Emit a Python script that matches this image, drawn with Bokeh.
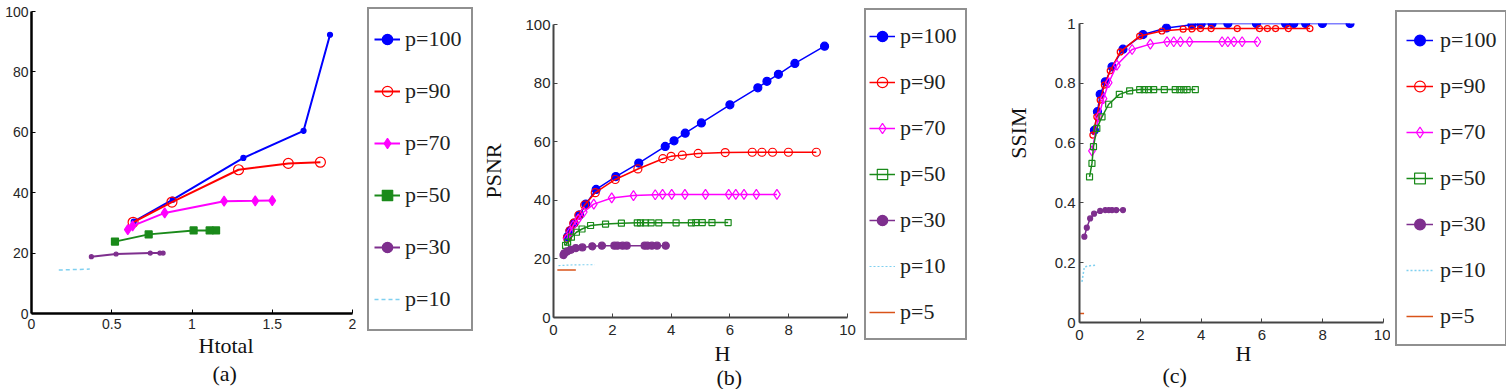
from bokeh.plotting import figure
from bokeh.layouts import row, column
from bokeh.models import Range1d, FixedTicker, Legend, LegendItem, Title
from bokeh.embed import file_html
from bokeh.resources import INLINE

# ---------------- data: panel (a) PSNR vs Htotal ----------------
a_x_ticks = [0, 0.5, 1, 1.5, 2]
a_x_labels = ["0", "0.5", "1", "1.5", "2"]
a_y_ticks = [0, 20, 40, 60, 80, 100]
a_y_labels = ["0", "20", "40", "60", "80", "100"]

a_p100_x = [0.637, 0.88, 1.32, 1.695, 1.86]
a_p100_y = [30.4, 37.7, 51.5, 60.5, 92.3]
a_p90_x = [0.633, 0.875, 1.29, 1.60, 1.80]
a_p90_y = [30.2, 36.9, 47.6, 49.7, 50.1]
a_p70_x = [0.60, 0.63, 0.83, 1.20, 1.394, 1.50]
a_p70_y = [27.8, 29.0, 33.3, 37.2, 37.3, 37.4]
a_p50_x = [0.52, 0.73, 1.01, 1.11, 1.15]
a_p50_y = [23.8, 26.2, 27.5, 27.5, 27.5]
a_p30_x = [0.373, 0.527, 0.74, 0.80, 0.82]
a_p30_y = [18.8, 19.7, 20.0, 20.0, 20.0]
a_p10_x = [0.17, 0.363]
a_p10_y = [14.4, 14.7]

# ---------------- data: panel (b) PSNR vs H ----------------
b_x_ticks = [0, 2, 4, 6, 8, 10]
b_x_labels = ["0", "2", "4", "6", "8", "10"]
b_y_ticks = [0, 20, 40, 60, 80, 100]
b_y_labels = ["0", "20", "40", "60", "80", "100"]

b_p100_x = [0.48, 0.56, 0.70, 0.89, 1.1, 1.45, 2.12, 2.9, 3.8, 4.1, 4.48, 5.03, 6.0, 6.95, 7.26, 7.65, 8.21, 9.22]
b_p100_y = [27.6, 29.6, 32.2, 35.0, 38.7, 43.7, 48.1, 52.7, 58.4, 60.3, 62.9, 66.4, 72.6, 78.4, 80.6, 83.0, 86.7, 92.6]
b_p90_x = [0.47, 0.56, 0.69, 0.86, 1.06, 1.42, 2.1, 2.87, 3.72, 4.0, 4.38, 4.92, 5.84, 6.76, 7.09, 7.45, 7.99, 8.94]
b_p90_y = [27.1, 29.6, 32.2, 34.9, 38.4, 42.6, 47.1, 50.7, 54.2, 55.0, 55.4, 56.0, 56.3, 56.4, 56.4, 56.4, 56.4, 56.4]
b_p70_x = [0.45, 0.56, 0.67, 0.84, 1.03, 1.37, 1.98, 2.72, 3.46, 3.71, 4.02, 4.47, 5.17, 5.96, 6.2, 6.48, 6.9, 7.6]
b_p70_y = [26.8, 29.1, 31.4, 33.6, 36.0, 38.7, 40.8, 41.6, 41.9, 42.0, 42.0, 42.0, 42.0, 42.0, 42.0, 42.0, 42.0, 42.0]
b_p50_x = [0.41, 0.48, 0.61, 0.78, 0.97, 1.26, 1.77, 2.31, 2.85, 2.96, 3.13, 3.32, 3.58, 4.17, 4.69, 4.84, 5.06, 5.39, 5.94]
b_p50_y = [24.6, 25.7, 27.4, 29.1, 30.2, 31.4, 31.9, 32.2, 32.3, 32.3, 32.3, 32.3, 32.3, 32.3, 32.3, 32.4, 32.4, 32.4, 32.4]
b_p30_x = [0.34, 0.37, 0.47, 0.59, 0.76, 0.98, 1.32, 1.65, 2.07, 2.18, 2.35, 2.49, 3.1, 3.2, 3.35, 3.52, 3.82]
b_p30_y = [21.3, 21.9, 22.6, 23.1, 23.7, 23.9, 24.3, 24.5, 24.5, 24.5, 24.5, 24.5, 24.5, 24.5, 24.5, 24.5, 24.5]
b_p10_x = [0.17, 0.5, 1.0, 1.4]
b_p10_y = [17.7, 17.9, 18.0, 18.0]
b_p5_x = [0.13, 0.76]
b_p5_y = [16.2, 16.2]

# ---------------- data: panel (c) SSIM vs H ----------------
c_x_ticks = [0, 2, 4, 6, 8, 10]
c_x_labels = ["0", "2", "4", "6", "8", "10"]
c_y_ticks = [0, 0.2, 0.4, 0.6, 0.8, 1]
c_y_labels = ["0", "0.2", "0.4", "0.6", "0.8", "1"]

c_p100_x = [0.49, 0.59, 0.68, 0.85, 1.07, 1.43, 2.09, 2.86, 3.7, 4.0, 4.36, 4.88, 5.82, 6.78, 7.05, 7.44, 7.99, 8.9]
c_p100_y = [0.643, 0.705, 0.763, 0.805, 0.855, 0.914, 0.963, 0.985, 0.996, 0.998, 1.0, 1.0, 1.0, 1.0, 1.0, 1.0, 1.0, 1.0]
c_p90_x = [0.44, 0.57, 0.68, 0.82, 1.01, 1.34, 1.98, 2.71, 3.41, 3.7, 3.98, 4.33, 5.19, 5.92, 6.18, 6.45, 6.87, 7.58]
c_p90_y = [0.627, 0.688, 0.744, 0.794, 0.842, 0.905, 0.958, 0.975, 0.981, 0.982, 0.983, 0.983, 0.983, 0.983, 0.983, 0.983, 0.983, 0.983]
c_p70_x = [0.41, 0.63, 0.79, 0.96, 1.23, 1.73, 2.33, 2.88, 3.1, 3.32, 3.62, 4.69, 4.88, 5.08, 5.35, 5.85]
c_p70_y = [0.574, 0.688, 0.749, 0.802, 0.861, 0.913, 0.931, 0.939, 0.939, 0.939, 0.939, 0.939, 0.939, 0.939, 0.939, 0.939]
c_p50_x = [0.33, 0.41, 0.46, 0.57, 0.74, 0.96, 1.31, 1.65, 1.98, 2.13, 2.27, 2.44, 2.79, 3.15, 3.3, 3.43, 3.54, 3.81]
c_p50_y = [0.487, 0.532, 0.588, 0.649, 0.688, 0.730, 0.763, 0.775, 0.779, 0.779, 0.779, 0.779, 0.779, 0.779, 0.779, 0.779, 0.779, 0.779]
c_p30_x = [0.16, 0.24, 0.35, 0.48, 0.68, 0.85, 0.96, 1.07, 1.21, 1.43]
c_p30_y = [0.287, 0.317, 0.348, 0.364, 0.373, 0.376, 0.376, 0.376, 0.376, 0.376]
c_p10_x = [0.08, 0.16, 0.35, 0.57]
c_p10_y = [0.136, 0.186, 0.190, 0.192]
c_p5_x = [0.0, 0.15]
c_p5_y = [0.03, 0.03]

labels = ["p=100", "p=90", "p=70", "p=50", "p=30", "p=10", "p=5"]

# ---------------- styles / layout ----------------
BLUE, RED, MAG, GREEN, PURP, CYAN, ORNG = "#0000ff", "#ff0000", "#ff00ff", "#1a8a1a", "#7e2f8e", "#7fd0f0", "#d95319"
SERIF = "Liberation Serif"
SANS = "Liberation Sans"
H = 389


def serif_title(text, align, offset, standoff, **kw):
    return Title(text=text, align=align, offset=offset, text_font=SERIF, text_font_size="22px",
                 text_font_style="normal", text_color="#111111", standoff=standoff, **kw)


def draw_series(p, series):
    out = []
    for (x, y, lab, color, lw, dash, marker, msize, filled) in series:
        rs = [p.line(x, y, line_color=color, line_width=lw, line_dash=dash)]
        if marker:
            rs.append(p.scatter(x, y, marker=marker, size=msize, line_color=color, line_width=1.2,
                                fill_color=color if filled else None))
        out.append((lab, rs))
    return out


def make_panel(width, left, right, top, bottom, xr, yr, xt, xl, yt, yl,
               series, axis_color, axis_w, tick_fs, tick_standoff_x, tick_standoff_y,
               xlabel, xlabel_offset, xlabel_standoff, cap, cap_offset, cap_standoff):
    p = figure(width=width, height=H, output_backend="svg", toolbar_location=None,
               x_range=Range1d(*xr), y_range=Range1d(*yr),
               min_border_left=left, min_border_right=right,
               min_border_top=top, min_border_bottom=bottom)
    p.outline_line_color = None
    p.grid.visible = False
    for ax, ticks, labs, so in ((p.xaxis[0], xt, xl, tick_standoff_x), (p.yaxis[0], yt, yl, tick_standoff_y)):
        ax.ticker = FixedTicker(ticks=ticks)
        ax.major_label_overrides = {t: s for t, s in zip(ticks, labs)}
        ax.major_tick_in = 4
        ax.major_tick_out = 0
        ax.minor_tick_line_color = None
        ax.axis_line_color = axis_color
        ax.axis_line_width = axis_w
        ax.major_tick_line_color = axis_color
        ax.major_tick_line_width = 1
        ax.major_label_text_font = SANS
        ax.major_label_text_font_size = tick_fs
        ax.major_label_text_color = "#262626"
        ax.major_label_standoff = so

    draw_series(p, series)

    p.add_layout(serif_title(xlabel, "left", xlabel_offset, xlabel_standoff), "below")
    p.add_layout(serif_title(cap, "left", cap_offset, cap_standoff), "below")
    return p


def make_legend(width, series, pad, h, sp, gw, stand, lab_w, xoff, top):
    lf = figure(width=width, height=H, output_backend="svg", toolbar_location=None,
                x_axis_type=None, y_axis_type=None,
                x_range=Range1d(-1001, -1000), y_range=Range1d(-1001, -1000),
                min_border_left=0, min_border_right=0,
                min_border_top=0, min_border_bottom=0)
    lf.outline_line_color = None
    items = [LegendItem(label=lab, renderers=rs) for lab, rs in draw_series(lf, series)]
    n = len(items)
    leg_h = 2 * pad + n * h + (n - 1) * sp
    leg = Legend(items=items, location=(xoff, H - (top + leg_h)), padding=pad,
                 label_height=h, glyph_height=h, spacing=sp, glyph_width=gw,
                 label_standoff=stand, label_width=lab_w,
                 label_text_font=SERIF, label_text_font_size="22px",
                 label_text_color="#222222", border_line_color="#222222", border_line_width=2,
                 background_fill_alpha=1.0, margin=0)
    lf.add_layout(leg, "center")
    return lf


series_a = [
    (a_p100_x, a_p100_y, labels[0], BLUE, 2, "solid", "circle", 5, True),
    (a_p90_x, a_p90_y, labels[1], RED, 2, "solid", "circle", 10, False),
    (a_p70_x, a_p70_y, labels[2], MAG, 2, "solid", "diamond", 10, True),
    (a_p50_x, a_p50_y, labels[3], GREEN, 2, "solid", "square", 7, True),
    (a_p30_x, a_p30_y, labels[4], PURP, 2, "solid", "circle", 4, True),
    (a_p10_x, a_p10_y, labels[5], CYAN, 1.5, "4 3", None, 0, False),
]
series_b = [
    (b_p100_x, b_p100_y, labels[0], BLUE, 1.5, "solid", "circle", 8, True),
    (b_p90_x, b_p90_y, labels[1], RED, 1.5, "solid", "circle", 8, False),
    (b_p70_x, b_p70_y, labels[2], MAG, 1.5, "solid", "diamond", 10, False),
    (b_p50_x, b_p50_y, labels[3], GREEN, 1.5, "solid", "square", 6, False),
    (b_p30_x, b_p30_y, labels[4], PURP, 1.5, "solid", "circle", 7, True),
    (b_p10_x, b_p10_y, labels[5], CYAN, 1.2, "2 2", None, 0, False),
    (b_p5_x, b_p5_y, labels[6], ORNG, 1.5, "solid", None, 0, False),
]
series_c = [
    (c_p100_x, c_p100_y, labels[0], BLUE, 1.5, "solid", "circle", 8, True),
    (c_p90_x, c_p90_y, labels[1], RED, 1.5, "solid", "circle", 6, False),
    (c_p70_x, c_p70_y, labels[2], MAG, 1.5, "solid", "diamond", 10, False),
    (c_p50_x, c_p50_y, labels[3], GREEN, 1.5, "solid", "square", 6, False),
    (c_p30_x, c_p30_y, labels[4], PURP, 1.5, "solid", "circle", 5, True),
    (c_p10_x, c_p10_y, labels[5], CYAN, 1.5, "2 2", None, 0, False),
    (c_p5_x, c_p5_y, labels[6], ORNG, 1.5, "solid", None, 0, False),
]

# panel (a): frame x 31..352, y 11..313
pa = make_panel(360, 31, 8, 11, 76, (0, 2), (0, 100), a_x_ticks, a_x_labels, a_y_ticks, a_y_labels,
                series_a, "#000000", 2.5, "14px", 5, 3,
                "Htotal", 167, -1, "(a)", 181, 3)
la = make_legend(118, series_a, 5, 50, 2, 26, 5, 61, 7, 11)

# panel (b): frame x 548..847, y 24..317
pb = make_panel(379, 70, 10, 24, 72, (0, 10), (0, 100), b_x_ticks, b_x_labels, b_y_ticks, b_y_labels,
                series_b, "#444444", 2, "15px", 7, 3,
                "H", 161, 2, "(b)", 163, -8)
pb.yaxis[0].axis_label = "PSNR"
pb.yaxis[0].axis_label_text_font = SERIF
pb.yaxis[0].axis_label_text_font_style = "normal"
pb.yaxis[0].axis_label_text_font_size = "22px"
pb.yaxis[0].axis_label_text_color = "#111111"
pb.yaxis[0].axis_label_standoff = 16
lb = make_legend(126, series_b, 3, 46, 0, 26, 5, 62, 7, 12)

# panel (c): frame x 1079..1383, y 23..322
pc = make_panel(407, 96, 7, 23, 67, (0, 10), (0, 1), c_x_ticks, c_x_labels, c_y_ticks, c_y_labels,
                series_c, "#444444", 2, "15px", 7, 4,
                "H", 156, -7, "(c)", 83, -4)
pc.add_layout(serif_title("SSIM", "right", 84, 40, vertical_align="middle"), "left")
lc = make_legend(116, series_c, 9, 38, 8, 27, 7, 55, 5, 14)

layout = row(column(pa), column(la), column(pb), column(lb), column(pc), column(lc))
open("out.html", "w").write(file_html(layout, INLINE))
